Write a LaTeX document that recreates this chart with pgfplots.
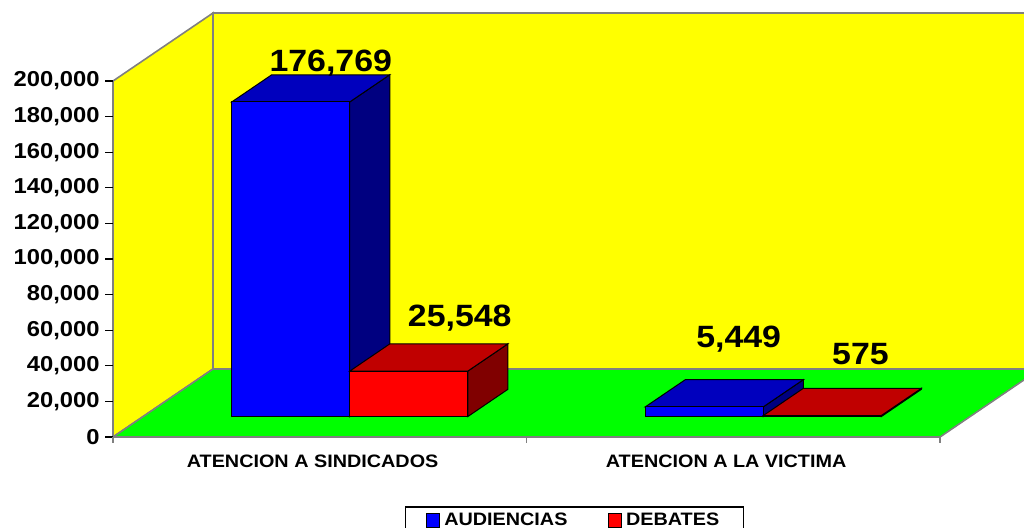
\documentclass[border=0pt]{standalone}
\usepackage{pgfplots}
\pgfplotsset{compat=1.18}
\usepackage{fontspec}
\setmainfont{Liberation Sans}[FakeStretch=1.1]

\definecolor{wall}{RGB}{255,255,0}
\definecolor{floorc}{RGB}{0,255,0}
\definecolor{edge}{RGB}{128,128,128}
\definecolor{bfront}{RGB}{0,0,255}
\definecolor{btop}{RGB}{0,0,190}
\definecolor{bside}{RGB}{0,0,128}
\definecolor{rfront}{RGB}{255,0,0}
\definecolor{rtop}{RGB}{192,0,0}
\definecolor{rside}{RGB}{128,0,0}

% one 3D bar: x0, x1, value, front, top, side
\newcommand{\barbox}[6]{%
  \addplot3[fill=#6, draw=black, line width=0.5pt, forget plot] coordinates {(#2,0.3,0) (#2,0.7,0) (#2,0.7,#3) (#2,0.3,#3)} -- cycle;
  \addplot3[fill=#5, draw=black, line width=0.5pt, forget plot] coordinates {(#1,0.3,#3) (#2,0.3,#3) (#2,0.7,#3) (#1,0.7,#3)} -- cycle;
  \addplot3[fill=#4, draw=black, line width=0.5pt, forget plot] coordinates {(#1,0.3,0) (#2,0.3,0) (#2,0.3,#3) (#1,0.3,#3)} -- cycle;
}

\begin{document}
\begin{tikzpicture}
\begin{axis}[
  x={(206.75pt,0pt)}, y={(50pt,34pt)}, z={(0pt,0.000885pt)},
  xmin=0, xmax=2, ymin=0, ymax=1, zmin=0, zmax=200000,
  axis lines*=left,
  axis line style={black, line width=0.6pt},
  y axis line style={draw=none},
  ytick=\empty,
  xtick={0,1,2}, xticklabels={},
  extra x ticks={0.5,1.5},
  extra x tick labels={ATENCION A SINDICADOS, ATENCION A LA VICTIMA},
  extra x tick style={tick label style={font=\bfseries\fontsize{9}{10}\selectfont, yshift=-5.5pt}},
  ztick={0,20000,40000,60000,80000,100000,120000,140000,160000,180000,200000},
  scaled z ticks=false,
  major tick length=0pt,
  /pgf/number format/.cd, fixed, 1000 sep={,}, assume math mode=true,
  /pgfplots/.cd,
  zticklabel style={font=\bfseries\fontsize{10.8}{12}\selectfont, anchor=east, xshift=-3.2pt},
  clip=false,
  legend image code/.code={\draw[#1, draw=black, line width=0.5pt] (0pt,-3.4pt) rectangle (6.8pt,3.4pt);},
  legend columns=2,
  legend style={at={(axis cs:1.116,0,-38983)}, anchor=north, draw=black, line width=0.6pt,
    inner xsep=10pt, inner ysep=1pt,
    font=\bfseries\fontsize{9}{10}\selectfont,
    /tikz/every even column/.append style={column sep=18pt}},
]
\coordinate (O) at (axis cs:0,0,0);
% walls and floor
\addplot3[fill=wall, draw=edge, line width=0.8pt, forget plot] coordinates {(0,1,0) (2,1,0) (2,1,200000) (0,1,200000)} -- cycle;
\addplot3[fill=wall, draw=edge, line width=0.8pt, forget plot] coordinates {(0,0,0) (0,1,0) (0,1,200000) (0,0,200000)} -- cycle;
\addplot3[fill=floorc, draw=edge, line width=0.8pt, forget plot] coordinates {(0,0,0) (2,0,0) (2,1,0) (0,1,0)} -- cycle;

% AUDIENCIAS / DEBATES
\barbox{0.2146}{0.5}{176769}{bfront}{btop}{bside}
\barbox{0.5}{0.7854}{25548}{rfront}{rtop}{rside}
\barbox{1.2146}{1.5}{5449}{bfront}{btop}{bside}
\barbox{1.5}{1.7854}{575}{rfront}{rtop}{rside}

\addlegendimage{fill=bfront}
\addlegendentry{AUDIENCIAS}
\addlegendimage{fill=rfront}
\addlegendentry{DEBATES}

% tick marks, straight out of the front edges
\pgfplotsinvokeforeach{0,20000,40000,60000,80000,100000,120000,140000,160000,180000,200000}{
  \draw[black, line width=0.6pt] (axis cs:0,0,#1) -- ++(-4pt,0pt);
}
\pgfplotsinvokeforeach{0,1,2}{
  \draw[edge, line width=0.6pt] (axis cs:#1,0,0) -- ++(0pt,-3pt);
}

\tikzset{val/.style={anchor=base, font=\bfseries\fontsize{15.4}{18}\selectfont}}
\node[val, yshift=1.7pt] at (axis cs:0.3573,0.7,176769) {176,769};
\node[val, xshift=5.5pt, yshift=8.75pt] at (axis cs:0.6427,0.7,25548) {25,548};
\node[val, xshift=-2.8pt, yshift=15.9pt] at (axis cs:1.3573,0.7,5449) {5,449};
\node[val, xshift=-0.9pt, yshift=11.7pt] at (axis cs:1.6427,0.7,575) {575};
\end{axis}
\pgfresetboundingbox
\useasboundingbox ([shift={(-56.5pt,-45pt)}]O) rectangle ([shift={(455.5pt,218.5pt)}]O);
\end{tikzpicture}
\end{document}
